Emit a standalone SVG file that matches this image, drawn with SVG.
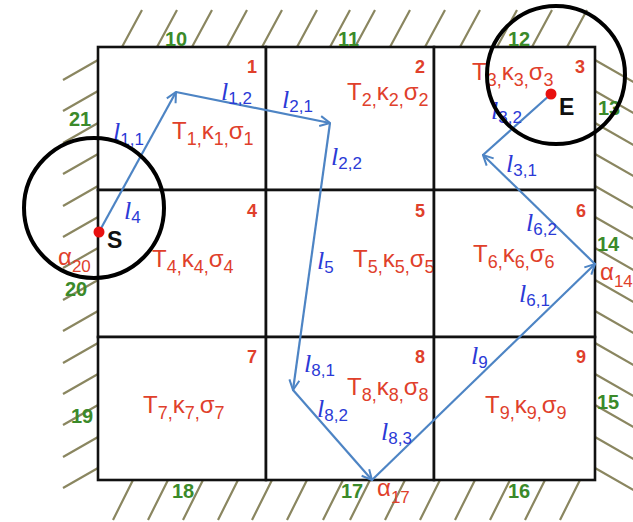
<svg xmlns="http://www.w3.org/2000/svg" width="633" height="522" viewBox="0 0 633 522">
<style>
.cell{fill:#fff;stroke:#111;stroke-width:2.6}
.hatch{stroke:#8a8660;stroke-width:2.2;fill:none}
.num{font-family:"Liberation Sans",Arial,sans-serif;font-weight:bold;font-size:18px;fill:#e0402b;text-anchor:middle}
.tl{font-family:"Liberation Sans",Arial,sans-serif;font-size:24px;fill:#e0402b}
.sb{font-size:18px}
.gn{font-family:"Liberation Sans",Arial,sans-serif;font-weight:bold;font-size:20px;fill:#3b8a2a}
.ll{font-family:"Liberation Serif","Times New Roman",serif;font-style:italic;font-size:26px;fill:#2b3ad6}
.ls{font-family:"Liberation Sans",Arial,sans-serif;font-style:normal;font-size:17px}
.al{font-family:"Liberation Sans",Arial,sans-serif;font-size:24px;fill:#e0402b}
.path{stroke:#4d84c4;stroke-width:2.2;fill:none}
.ring{fill:none;stroke:#000;stroke-width:4}
.pt{fill:#e8100f}
.pl{font-family:"Liberation Sans",Arial,sans-serif;font-weight:bold;font-size:23px;fill:#111}
</style>
<defs>
<marker id="arr" viewBox="0 0 12 12" refX="11" refY="6" markerWidth="12" markerHeight="12" markerUnits="userSpaceOnUse" orient="auto">
<path d="M1,1 L11,6 L1,11" fill="none" stroke="#4d84c4" stroke-width="2"/>
</marker>
</defs>
<rect width="633" height="522" fill="#fff"/>
<g id="walls">
<path class="hatch" d="M122 47l20-37M157 47l20-37M192 47l20-37M227 47l20-37M262 47l20-37M297 47l20-37M330 47l20-37M355 47l20-37M390 47l20-37M425 47l20-37M460 47l20-37M497 47l20-37M532 47l20-37M567 47l20-37"/>
<path class="hatch" d="M133 480l-20 40M168 480l-20 40M203 480l-20 40M238 480l-20 40M272 480l-20 40M307 480l-20 40M343 480l-20 40M370 480l-20 40M405 480l-20 40M440 480l-20 40M475 480l-20 40M510 480l-20 40M545 480l-20 40M580 480l-20 40"/>
<path class="hatch" d="M98 60l-35 20M98 91l-35 20M98 123l-35 20M98 154l-35 20M98 186l-35 20M98 217l-35 20M98 248l-35 20M98 280l-35 20M98 311l-35 20M98 343l-35 20M98 374l-35 20M98 405l-35 20M98 437l-35 20M98 468l-35 20"/>
<path class="hatch" d="M595 60l42 24M595 91l42 24M595 123l42 24M595 154l42 24M595 186l42 24M595 217l42 24M595 248l42 24M595 280l42 24M595 311l42 24M595 343l42 24M595 374l42 24M595 405l42 24M595 437l42 24M595 468l42 24"/>
</g>
<g id="cell1"><rect class="cell" x="98" y="47" width="168" height="143"/><text class="num" x="252" y="73">1</text><text class="tl" x="172" y="139">T<tspan class="sb" dy="6">1,</tspan><tspan dy="-6">κ</tspan><tspan class="sb" dy="6">1,</tspan><tspan dy="-6">σ</tspan><tspan class="sb" dy="6">1</tspan></text></g>
<g id="cell2"><rect class="cell" x="266" y="47" width="168" height="143"/><text class="num" x="420" y="73">2</text><text class="tl" x="347" y="100">T<tspan class="sb" dy="6">2,</tspan><tspan dy="-6">κ</tspan><tspan class="sb" dy="6">2,</tspan><tspan dy="-6">σ</tspan><tspan class="sb" dy="6">2</tspan></text></g>
<g id="cell3"><rect class="cell" x="434" y="47" width="161" height="143"/><text class="num" x="580" y="73">3</text><text class="tl" x="472" y="80">T<tspan class="sb" dy="6">3,</tspan><tspan dy="-6">κ</tspan><tspan class="sb" dy="6">3,</tspan><tspan dy="-6">σ</tspan><tspan class="sb" dy="6">3</tspan></text></g>
<g id="cell4"><rect class="cell" x="98" y="190" width="168" height="147"/><text class="num" x="252" y="217">4</text><text class="tl" x="152" y="267">T<tspan class="sb" dy="6">4,</tspan><tspan dy="-6">κ</tspan><tspan class="sb" dy="6">4,</tspan><tspan dy="-6">σ</tspan><tspan class="sb" dy="6">4</tspan></text></g>
<g id="cell5"><rect class="cell" x="266" y="190" width="168" height="147"/><text class="num" x="420" y="217">5</text><text class="tl" x="353" y="267">T<tspan class="sb" dy="6">5,</tspan><tspan dy="-6">κ</tspan><tspan class="sb" dy="6">5,</tspan><tspan dy="-6">σ</tspan><tspan class="sb" dy="6">5</tspan></text></g>
<g id="cell6"><rect class="cell" x="434" y="190" width="161" height="147"/><text class="num" x="581" y="217">6</text><text class="tl" x="473" y="262">T<tspan class="sb" dy="6">6,</tspan><tspan dy="-6">κ</tspan><tspan class="sb" dy="6">6,</tspan><tspan dy="-6">σ</tspan><tspan class="sb" dy="6">6</tspan></text></g>
<g id="cell7"><rect class="cell" x="98" y="337" width="168" height="143"/><text class="num" x="252" y="363">7</text><text class="tl" x="143" y="413">T<tspan class="sb" dy="6">7,</tspan><tspan dy="-6">κ</tspan><tspan class="sb" dy="6">7,</tspan><tspan dy="-6">σ</tspan><tspan class="sb" dy="6">7</tspan></text></g>
<g id="cell8"><rect class="cell" x="266" y="337" width="168" height="143"/><text class="num" x="420" y="363">8</text><text class="tl" x="347" y="395">T<tspan class="sb" dy="6">8,</tspan><tspan dy="-6">κ</tspan><tspan class="sb" dy="6">8,</tspan><tspan dy="-6">σ</tspan><tspan class="sb" dy="6">8</tspan></text></g>
<g id="cell9"><rect class="cell" x="434" y="337" width="161" height="143"/><text class="num" x="581" y="363">9</text><text class="tl" x="485" y="413">T<tspan class="sb" dy="6">9,</tspan><tspan dy="-6">κ</tspan><tspan class="sb" dy="6">9,</tspan><tspan dy="-6">σ</tspan><tspan class="sb" dy="6">9</tspan></text></g>
<g id="boundary-labels">
<text class="gn" x="165" y="46">10</text>
<text class="gn" x="338" y="46">11</text>
<text class="gn" x="508" y="46">12</text>
<text class="gn" x="598" y="115">13</text>
<text class="gn" x="597" y="251">14</text>
<text class="gn" x="597" y="409">15</text>
<text class="gn" x="508" y="498">16</text>
<text class="gn" x="341" y="498">17</text>
<text class="gn" x="172" y="498">18</text>
<text class="gn" x="71" y="423">19</text>
<text class="gn" x="65" y="296">20</text>
<text class="gn" x="69" y="126">21</text>
<text class="al" x="58" y="265">α<tspan class="ls" dy="7">20</tspan></text>
<text class="al" x="600" y="280">α<tspan class="ls" dy="7">14</tspan></text>
<text class="al" x="377" y="496">α<tspan class="ls" dy="7">17</tspan></text>
</g>
<g id="connectors">
<line class="path" x1="99" y1="232" x2="176" y2="92" marker-end="url(#arr)"/>
<line class="path" x1="176" y1="92" x2="330" y2="123" marker-end="url(#arr)"/>
<line class="path" x1="330" y1="123" x2="293" y2="390" marker-end="url(#arr)"/>
<line class="path" x1="293" y1="390" x2="372" y2="480" marker-end="url(#arr)"/>
<line class="path" x1="372" y1="480" x2="595" y2="264" marker-end="url(#arr)"/>
<line class="path" x1="595" y1="264" x2="483" y2="155" marker-end="url(#arr)"/>
<line class="path" x1="483" y1="155" x2="551" y2="94"/>
</g>
<g id="segment-labels">
<text class="ll" x="113" y="140">l<tspan class="ls" dy="5">1,1</tspan></text>
<text class="ll" x="221" y="100">l<tspan class="ls" dy="4">1,2</tspan></text>
<text class="ll" x="282" y="108">l<tspan class="ls" dy="4">2,1</tspan></text>
<text class="ll" x="331" y="165">l<tspan class="ls" dy="4">2,2</tspan></text>
<text class="ll" x="491" y="119">l<tspan class="ls" dy="4">3,2</tspan></text>
<text class="ll" x="506" y="172">l<tspan class="ls" dy="4">3,1</tspan></text>
<text class="ll" x="124" y="219">l<tspan class="ls" dy="4">4</tspan></text>
<text class="ll" x="317" y="269">l<tspan class="ls" dy="4">5</tspan></text>
<text class="ll" x="526" y="231">l<tspan class="ls" dy="4">6,2</tspan></text>
<text class="ll" x="519" y="302">l<tspan class="ls" dy="4">6,1</tspan></text>
<text class="ll" x="304" y="372">l<tspan class="ls" dy="4">8,1</tspan></text>
<text class="ll" x="317" y="417">l<tspan class="ls" dy="4">8,2</tspan></text>
<text class="ll" x="381" y="440">l<tspan class="ls" dy="4">8,3</tspan></text>
<text class="ll" x="471" y="364">l<tspan class="ls" dy="4">9</tspan></text>
</g>
<g id="start">
<circle class="ring" cx="94" cy="208" r="70"/>
<circle class="pt" cx="99" cy="232" r="5.5"/>
<text class="pl" x="107" y="248">S</text>
</g>
<g id="end">
<circle class="ring" cx="556" cy="75" r="69"/>
<circle class="pt" cx="551" cy="94" r="5.5"/>
<text class="pl" x="559" y="115">E</text>
</g>
</svg>
